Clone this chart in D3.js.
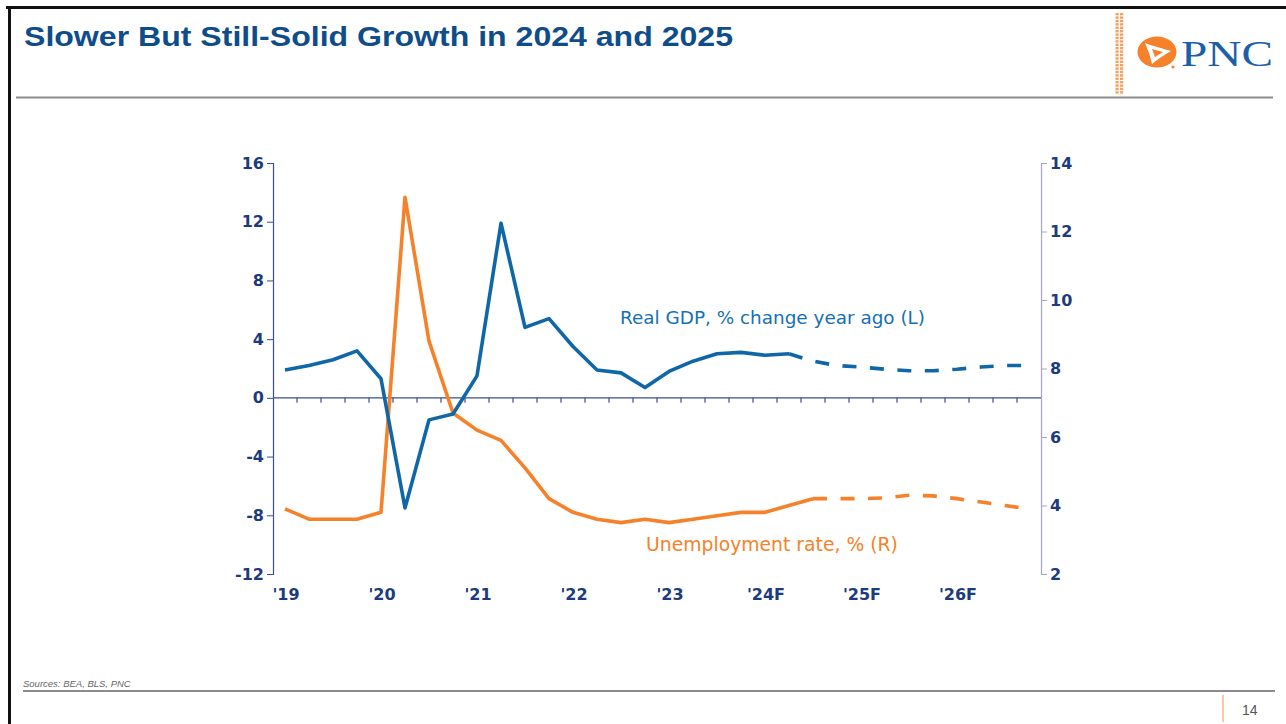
<!DOCTYPE html>
<html>
<head>
<meta charset="utf-8">
<script src="https://cdn.jsdelivr.net/npm/d3@7"></script>
<style>
  html, body { margin: 0; padding: 0; background: #fff; }
  svg { display: block; }
</style>
</head>
<body>
<div id="chart"></div>
<script>
const width = 1286;
const height = 724;

// quarters 2019Q1 .. 2026Q4
const years = [2019, 2020, 2021, 2022, 2023, 2024, 2025, 2026];
const quarters = years.flatMap(y => [1, 2, 3, 4].map(q => `${y}Q${q}`));
const yearLabels = ["'19", "'20", "'21", "'22", "'23", "'24F", "'25F", "'26F"];

// Real GDP, % change year ago (left axis)
const gdp = [1.9, 2.2, 2.6, 3.2, 1.3, -7.5, -1.5, -1.1, 1.5, 11.9, 4.8, 5.4,
  3.5, 1.9, 1.7, 0.7, 1.8, 2.5, 3.0, 3.1, 2.9, 3.0, 2.5, 2.2,
  2.1, 1.95, 1.85, 1.85, 1.95, 2.1, 2.2, 2.2];
const gdpActualCount = 22; // last actual point index 21

// Unemployment rate, % (right axis)
const unemp = [3.9, 3.6, 3.6, 3.6, 3.8, 13.0, 8.8, 6.7, 6.2, 5.9, 5.1, 4.2,
  3.8, 3.6, 3.5, 3.6, 3.5, 3.6, 3.7, 3.8, 3.8, 4.0, 4.2, 4.2,
  4.2, 4.22, 4.3, 4.28, 4.2, 4.1, 4.0, 3.9];
const unempActualCount = 23;

const leftTicks = [16, 12, 8, 4, 0, -4, -8, -12];
const rightTicks = [14, 12, 10, 8, 6, 4, 2];

const blue = "#0F67A8";
const orange = "#F5822A";
const navy = "#1D3B7C";
const titleBlue = "#0F4C8A";

const svg = d3.select("#chart").append("svg")
  .attr("width", width)
  .attr("height", height);

// page frame
svg.append("rect").attr("x", 0).attr("y", 0).attr("width", width).attr("height", height).attr("fill", "#fff");
svg.append("line").attr("x1", 6).attr("x2", width).attr("y1", 7.5).attr("y2", 7.5)
  .attr("stroke", "#111").attr("stroke-width", 3);
svg.append("line").attr("x1", 9.5).attr("x2", 9.5).attr("y1", 6).attr("y2", height)
  .attr("stroke", "#111").attr("stroke-width", 3);

// title
svg.append("text")
  .attr("x", 24).attr("y", 46)
  .attr("fill", titleBlue)
  .attr("textLength", 709)
  .attr("lengthAdjust", "spacingAndGlyphs")
  .style("font-family", "'Liberation Sans', Arial, sans-serif")
  .style("font-weight", "bold")
  .style("font-size", "28px")
  .text("Slower But Still-Solid Growth in 2024 and 2025");

svg.append("line").attr("x1", 16).attr("x2", 1273).attr("y1", 97.5).attr("y2", 97.5)
  .attr("stroke", "#8c8c8c").attr("stroke-width", 2);

// logo: dotted strip
const dots = svg.append("g").attr("fill", "#F6A25E");
for (let r = 0; r < 24; r++) {
  for (let c = 0; c < 2; c++) {
    dots.append("rect").attr("x", 1115.5 + c * 4.5).attr("y", 13 + r * 3.4)
      .attr("width", 3.2).attr("height", 2.4);
  }
}
// logo mark
const logo = svg.append("g").attr("transform", "translate(1157,52)");
logo.append("ellipse").attr("rx", 19.5).attr("ry", 15.5).attr("fill", orange);
logo.append("path").attr("d", "M-12,-9 Q-4,-6 14,-1 Q2,6 -5,12 Q-7,2 -12,-9 Z").attr("fill", "#fff");
logo.append("path").attr("d", "M-5,-3 L6,0 L-2,5 Z").attr("fill", orange);
logo.append("circle").attr("cx", 16).attr("cy", 15).attr("r", 1.6).attr("fill", orange);
svg.append("text")
  .attr("x", 1181).attr("y", 66)
  .attr("fill", "#1C5FA8")
  .attr("textLength", 92)
  .attr("lengthAdjust", "spacingAndGlyphs")
  .style("font-family", "'Liberation Serif', 'Times New Roman', serif")
  .style("font-size", "36px")
  .text("PNC");

// chart scales
const x = d3.scaleBand().domain(quarters).range([273, 1041]);
const yL = d3.scaleLinear().domain([-12, 16]).range([574, 163]);
const yR = d3.scaleLinear().domain([2, 14]).range([574, 163]);
const cx = (i) => x(quarters[i]) + x.bandwidth() / 2;

const tickFont = "'DejaVu Sans', Verdana, sans-serif";

// left axis
const leftAxis = svg.append("g")
  .attr("transform", "translate(273,0)")
  .call(d3.axisLeft(yL).tickValues(leftTicks).tickSize(6).tickPadding(3).tickFormat(d3.format("d")));
leftAxis.select(".domain").attr("stroke", "#3A4E8E").attr("stroke-width", 1.2);
leftAxis.selectAll(".tick line").attr("stroke", "#3A4E8E");
leftAxis.selectAll(".tick text")
  .attr("fill", navy)
  .style("font-family", tickFont)
  .style("font-weight", "bold")
  .style("font-size", "16px")
  .text(d => d < 0 ? "-" + Math.abs(d) : d);

// right axis
const rightAxis = svg.append("g")
  .attr("transform", "translate(1041,0)")
  .call(d3.axisRight(yR).tickValues(rightTicks).tickSize(6).tickPadding(3).tickFormat(d3.format("d")));
rightAxis.select(".domain").attr("stroke", "#A6A6C4").attr("stroke-width", 1.2);
rightAxis.selectAll(".tick line").attr("stroke", "#A6A6C4");
rightAxis.selectAll(".tick text")
  .attr("fill", navy)
  .style("font-family", tickFont)
  .style("font-weight", "bold")
  .style("font-size", "16px");

// zero line with quarter ticks
const zeroY = yL(0);
svg.append("line")
  .attr("x1", 273).attr("x2", 1041).attr("y1", zeroY).attr("y2", zeroY)
  .attr("stroke", "#3A4E8E").attr("stroke-width", 1.4);
svg.append("g").selectAll("line")
  .data(quarters.slice(1))
  .join("line")
  .attr("x1", d => x(d)).attr("x2", d => x(d))
  .attr("y1", zeroY).attr("y2", zeroY + 5)
  .attr("stroke", "#3A4E8E").attr("stroke-width", 1.2);

// year labels
svg.append("g").selectAll("text")
  .data(yearLabels)
  .join("text")
  .attr("x", (d, i) => cx(i * 4) + 1)
  .attr("y", 600)
  .attr("text-anchor", "middle")
  .attr("fill", navy)
  .style("font-family", tickFont)
  .style("font-weight", "bold")
  .style("font-size", "16px")
  .text(d => d);

// lines
const gdpLine = d3.line().x(d => cx(d.i)).y(d => yL(d.v));
const unLine = d3.line().x(d => cx(d.i)).y(d => yR(d.v));
const gdpPts = gdp.map((v, i) => ({ i, v }));
const unPts = unemp.map((v, i) => ({ i, v }));

svg.append("path")
  .attr("d", unLine(unPts.slice(0, unempActualCount)))
  .attr("fill", "none").attr("stroke", orange).attr("stroke-width", 3.6)
  .attr("stroke-linejoin", "round");
svg.append("path")
  .attr("d", unLine(unPts.slice(unempActualCount - 1)))
  .attr("fill", "none").attr("stroke", orange).attr("stroke-width", 3.6)
  .attr("stroke-dasharray", "14,13.5");

svg.append("path")
  .attr("d", gdpLine(gdpPts.slice(0, gdpActualCount)))
  .attr("fill", "none").attr("stroke", blue).attr("stroke-width", 3.6)
  .attr("stroke-linejoin", "round");
svg.append("path")
  .attr("d", gdpLine(gdpPts.slice(gdpActualCount - 1)))
  .attr("fill", "none").attr("stroke", blue).attr("stroke-width", 3.6)
  .attr("stroke-dasharray", "14,13.5");

// series labels
svg.append("text")
  .attr("x", 620).attr("y", 324)
  .attr("fill", "#1570B3")
  .style("font-family", tickFont)
  .style("font-size", "18.4px")
  .text("Real GDP, % change year ago (L)");
svg.append("text")
  .attr("x", 646).attr("y", 551)
  .attr("fill", orange)
  .style("font-family", tickFont)
  .style("font-size", "18.8px")
  .text("Unemployment rate, % (R)");

// footer
svg.append("text")
  .attr("x", 23).attr("y", 687)
  .attr("fill", "#666")
  .style("font-family", "'Liberation Sans', Arial, sans-serif")
  .style("font-style", "italic")
  .style("font-size", "9.5px")
  .text("Sources: BEA, BLS, PNC");
svg.append("line").attr("x1", 23).attr("x2", 1275).attr("y1", 691).attr("y2", 691)
  .attr("stroke", "#8c8c8c").attr("stroke-width", 2);
svg.append("line").attr("x1", 1223).attr("x2", 1223).attr("y1", 695).attr("y2", 722)
  .attr("stroke", "#F9C8A4").attr("stroke-width", 2);
svg.append("text")
  .attr("x", 1242).attr("y", 715)
  .attr("fill", "#555")
  .style("font-family", "'Liberation Sans', Arial, sans-serif")
  .style("font-size", "14px")
  .text("14");
</script>
</body>
</html>
